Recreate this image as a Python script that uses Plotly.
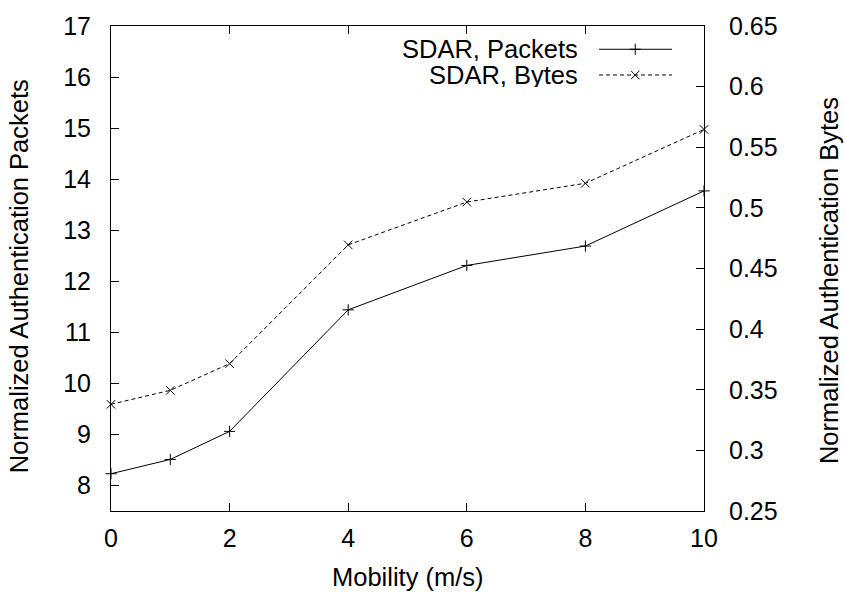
import plotly.graph_objects as go

mobility = [0, 1, 2, 4, 6, 8, 10]
packets = [8.23, 8.51, 9.06, 11.44, 12.31, 12.69, 13.77]
bytes_ = [0.338, 0.3495, 0.3715, 0.4695, 0.5048, 0.5203, 0.5647]

x_ticks = [0, 2, 4, 6, 8, 10]
y_ticks = [8, 9, 10, 11, 12, 13, 14, 15, 16, 17]
y2_ticks = [0.25, 0.3, 0.35, 0.4, 0.45, 0.5, 0.55, 0.6, 0.65]
y2_text = ["0.25", "0.3", "0.35", "0.4", "0.45", "0.5", "0.55", "0.6", "0.65"]

series_names = ["SDAR, Packets", "SDAR, Bytes"]

FONT = "Liberation Sans"
PLUS = dict(symbol="cross-thin-open", size=8, color="black", line=dict(color="black", width=1))
CROSS = dict(symbol="x-thin-open", size=8.5, color="black", line=dict(color="black", width=1))

fig = go.Figure()

fig.add_trace(go.Scatter(
    x=mobility, y=packets, mode="lines+markers", name=series_names[0],
    line=dict(color="black", width=1), marker=PLUS,
    showlegend=False, cliponaxis=False))
fig.add_trace(go.Scatter(
    x=mobility, y=bytes_, mode="lines+markers", name=series_names[1], yaxis="y2",
    line=dict(color="black", width=1, dash="4px,3px"), marker=CROSS,
    showlegend=False, cliponaxis=False))

# manual legend (text left of sample) on a hidden overlay axis
leg_rows = [0.952, 0.899]
fig.add_trace(go.Scatter(x=[0.823, 0.946], y=[leg_rows[0]] * 2, xaxis="x3", yaxis="y3",
                         mode="lines", line=dict(color="black", width=1),
                         showlegend=False, hoverinfo="skip"))
fig.add_trace(go.Scatter(x=[0.884], y=[leg_rows[0]], xaxis="x3", yaxis="y3",
                         mode="markers", marker=PLUS, showlegend=False, hoverinfo="skip"))
fig.add_trace(go.Scatter(x=[0.823, 0.946], y=[leg_rows[1]] * 2, xaxis="x3", yaxis="y3",
                         mode="lines", line=dict(color="black", width=1, dash="4px,3px"),
                         showlegend=False, hoverinfo="skip"))
fig.add_trace(go.Scatter(x=[0.884], y=[leg_rows[1]], xaxis="x3", yaxis="y3",
                         mode="markers", marker=CROSS, showlegend=False, hoverinfo="skip"))

annotations = []
for name, yy in zip(series_names, leg_rows):
    annotations.append(dict(text=name, xref="paper", yref="paper", x=0.791, y=yy,
                            xanchor="right", yanchor="middle", showarrow=False,
                            height=24, valign="middle",
                            font=dict(family=FONT, size=25.5, color="black")))

annotations.append(dict(text="Mobility (m/s)", xref="paper", yref="paper", x=0.5, y=0,
                        xanchor="center", yanchor="top", yshift=-50, showarrow=False,
                        font=dict(family=FONT, size=25.5, color="black")))
annotations.append(dict(text="Normalized Authentication Packets", xref="paper", yref="paper",
                        x=0, y=0.484, xanchor="center", yanchor="middle", xshift=-92,
                        textangle=-90, showarrow=False,
                        font=dict(family=FONT, size=25.5, color="black")))
annotations.append(dict(text="Normalized Authentication Bytes", xref="paper", yref="paper",
                        x=1, y=0.474, xanchor="center", yanchor="middle", xshift=125,
                        textangle=-90, showarrow=False,
                        font=dict(family=FONT, size=25.5, color="black")))

tickfont = dict(family=FONT, size=25, color="black")

fig.update_layout(
    width=845, height=592,
    margin=dict(l=111, r=141, t=18, b=81, pad=0),
    paper_bgcolor="white", plot_bgcolor="white",
    font=dict(family=FONT, color="black"),
    xaxis=dict(range=[0, 10], tickvals=x_ticks, ticks="inside", ticklen=8, tickwidth=1,
               tickcolor="black", showline=True, linecolor="black", linewidth=1,
               mirror="ticks", showgrid=False, zeroline=False, tickfont=tickfont,
               ticklabelstandoff=5),
    yaxis=dict(range=[7.5, 17], tickvals=y_ticks, ticks="inside", ticklen=8, tickwidth=1,
               tickcolor="black", showline=True, linecolor="black", linewidth=1,
               mirror=False, showgrid=False, zeroline=False, tickfont=tickfont,
               ticklabelstandoff=14),
    yaxis2=dict(range=[0.25, 0.65], tickvals=y2_ticks, ticktext=y2_text, overlaying="y",
                side="right", ticks="inside", ticklen=8, tickwidth=1, tickcolor="black",
                showline=True, linecolor="black", linewidth=1, showgrid=False,
                zeroline=False, tickfont=tickfont, ticklabelstandoff=19),
    xaxis3=dict(range=[0, 1], overlaying="x", anchor="y3", visible=False),
    yaxis3=dict(range=[0, 1], overlaying="y", anchor="x3", visible=False),
    annotations=annotations,
    showlegend=False,
)

fig.write_html("out.html")
